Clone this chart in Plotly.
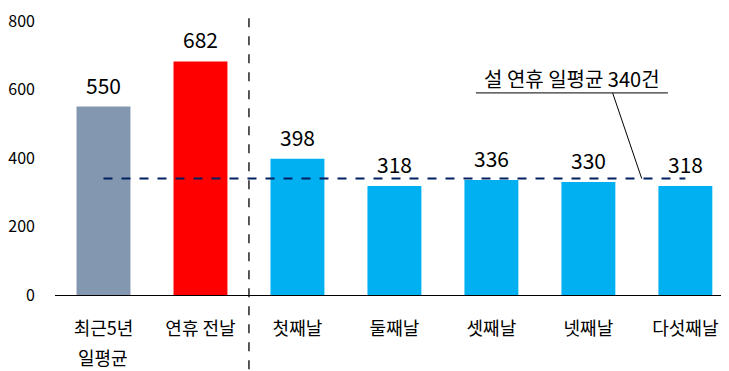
import plotly.graph_objects as go

categories = ["최근5년", "연휴 전날", "첫째날", "둘째날", "셋째날", "넷째날", "다섯째날"]
values = [550, 682, 398, 318, 336, 330, 318]
bar_colors = ["#8497B0", "#FF0000", "#00B0F0", "#00B0F0", "#00B0F0", "#00B0F0", "#00B0F0"]
holiday_mean = 340
mean_label = "설 연휴 일평균 340건"
y_ticks = [0, 200, 400, 600, 800]

FONT = "Noto Sans CJK KR"
xs = list(range(len(categories)))

fig = go.Figure()
fig.add_trace(go.Bar(
    x=xs, y=values, marker=dict(color=bar_colors, line=dict(width=0)),
    width=0.556, hoverinfo="skip", showlegend=False,
))
# holiday mean dashed line from 1st to last category
fig.add_trace(go.Scatter(
    x=[xs[0], xs[-1]], y=[holiday_mean, holiday_mean], mode="lines",
    line=dict(color="#002060", width=2, dash="dash"),
    hoverinfo="skip", showlegend=False,
))

annotations = []
for x, v in zip(xs, values):
    annotations.append(dict(x=x, y=v, xref="x", yref="y", text=str(v),
                            showarrow=False, yanchor="middle", yshift=22,
                            font=dict(family=FONT, size=21, color="#000000")))
annotations.append(dict(x=0, y=-0.227, xref="x", yref="paper", text="일평균",
                        showarrow=False, yanchor="middle",
                        font=dict(family=FONT, size=18, color="#000000")))
annotations.append(dict(x=4.83, y=632, xref="x", yref="y", text=mean_label,
                        showarrow=False, yanchor="middle",
                        font=dict(family=FONT, size=20, color="#000000")))

shapes = [
    # separator between pre-holiday and holiday days
    dict(type="line", xref="x", yref="paper", x0=1.5, x1=1.5, y0=1.01, y1=-0.3,
         line=dict(color="#000000", width=1.3, dash="dash")),
    # underline of label
    dict(type="line", xref="x", yref="y", x0=3.84, x1=5.82, y0=590, y1=590,
         line=dict(color="#000000", width=1)),
    # leader line
    dict(type="line", xref="x", yref="y", x0=5.25, x1=5.55, y0=590, y1=holiday_mean,
         line=dict(color="#000000", width=1)),
]

fig.update_layout(
    width=721, height=363, autosize=False,
    margin=dict(l=47, r=0, t=13, b=76),
    plot_bgcolor="white", paper_bgcolor="white",
    font=dict(family=FONT, color="#000000"),
    annotations=annotations, shapes=shapes,
)
fig.update_xaxes(
    range=[-0.5, 6.45], tickmode="array", tickvals=xs, ticktext=categories,
    showline=True, linecolor="#000000", linewidth=1, ticks="", showgrid=False,
    zeroline=False, tickfont=dict(family=FONT, size=18, color="#000000"),
    ticklabelstandoff=17, fixedrange=True, automargin=False,
)
fig.update_yaxes(
    range=[0, 800], tickmode="array", tickvals=y_ticks,
    showline=False, ticks="", showgrid=False, zeroline=False,
    tickfont=dict(family=FONT, size=16, color="#000000"),
    ticklabelstandoff=19, fixedrange=True, ticklabeloverflow="allow",
    automargin=False,
)
fig.write_html("out.html")
